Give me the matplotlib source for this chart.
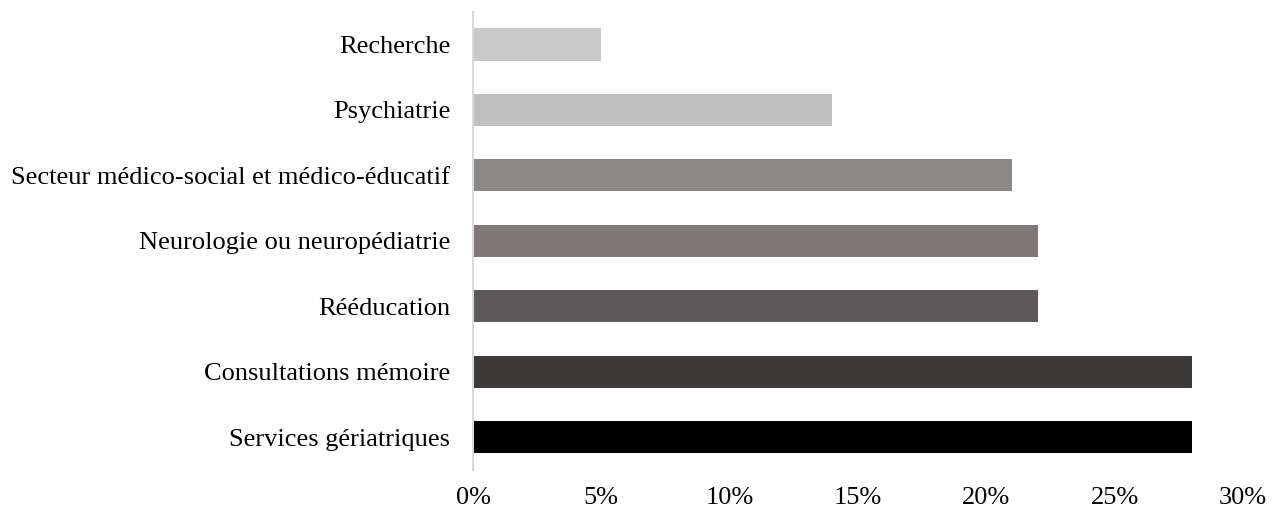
import matplotlib.pyplot as plt
from matplotlib.ticker import FuncFormatter

plt.rcParams['font.family'] = ['Liberation Serif', 'DejaVu Serif']

categories = [
    "Services gériatriques",
    "Consultations mémoire",
    "Rééducation",
    "Neurologie ou neuropédiatrie",
    "Secteur médico-social et médico-éducatif",
    "Psychiatrie",
    "Recherche",
]
values = [0.28, 0.28, 0.22, 0.22, 0.21, 0.14, 0.05]
colors = ["#000000", "#3d3939", "#5d5859", "#7e7878", "#8c8888", "#bfbfbf", "#c9c9c9"]
xticks = [0, 0.05, 0.10, 0.15, 0.20, 0.25, 0.30]

fig = plt.figure(figsize=(12.76, 5.12), dpi=100)
ax = fig.add_axes([0.3707, 0.082, 0.6033, 0.895])

ax.barh(categories, values, height=0.49, color=colors)

ax.set_xlim(0, 0.30)
ax.set_ylim(-0.5, len(categories) - 0.5)
ax.set_xticks(xticks)
ax.xaxis.set_major_formatter(FuncFormatter(lambda v, p: f"{v * 100:.0f}%"))

for s in ["top", "right", "bottom"]:
    ax.spines[s].set_visible(False)
ax.spines["left"].set_color("#d9d9d9")
ax.spines["left"].set_linewidth(1.5)

ax.tick_params(axis="both", length=0, labelsize=19, colors="#000000")
ax.tick_params(axis="y", pad=16.5)
ax.tick_params(axis="x", pad=12)

plt.savefig("out.png", dpi=100)
